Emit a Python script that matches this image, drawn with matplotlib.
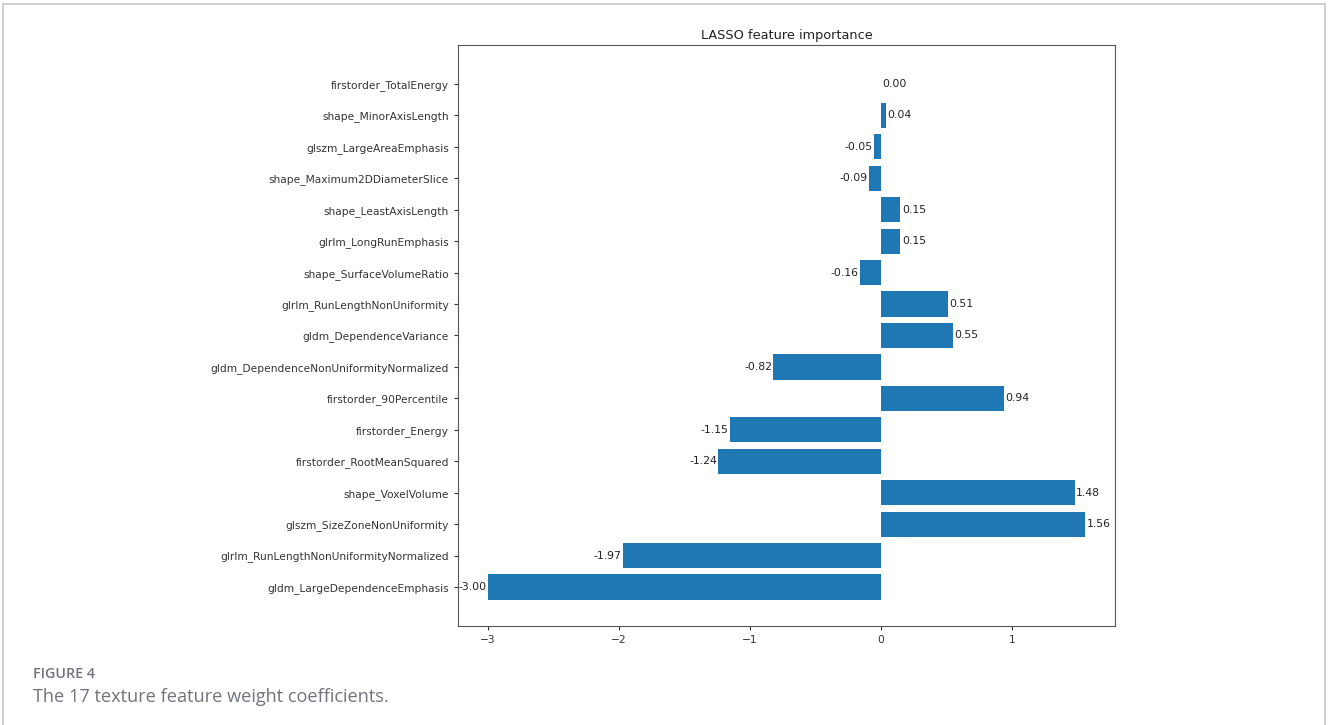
import matplotlib.pyplot as plt

plt.rcParams["font.family"] = ["DejaVu Sans"]

# LASSO coefficients, bottom to top
features = [
    "gldm_LargeDependenceEmphasis",
    "glrlm_RunLengthNonUniformityNormalized",
    "glszm_SizeZoneNonUniformity",
    "shape_VoxelVolume",
    "firstorder_RootMeanSquared",
    "firstorder_Energy",
    "firstorder_90Percentile",
    "gldm_DependenceNonUniformityNormalized",
    "gldm_DependenceVariance",
    "glrlm_RunLengthNonUniformity",
    "shape_SurfaceVolumeRatio",
    "glrlm_LongRunEmphasis",
    "shape_LeastAxisLength",
    "shape_Maximum2DDiameterSlice",
    "glszm_LargeAreaEmphasis",
    "shape_MinorAxisLength",
    "firstorder_TotalEnergy",
]
coefs = [-3.00, -1.97, 1.56, 1.48, -1.24, -1.15, 0.94, -0.82, 0.55, 0.51,
         -0.16, 0.15, 0.15, -0.09, -0.05, 0.04, 0.00]

fig = plt.figure(figsize=(13.28, 7.25), dpi=100)
ax = fig.add_axes([458 / 1328, 1 - 626 / 725, (1115 - 458) / 1328, (626 - 45) / 725])

bars = ax.barh(features, coefs, color="#1f77b4")
ax.bar_label(bars, fmt="%.2f", padding=1, fontsize=7.8, color="#222222")
ax.set_title("LASSO feature importance", fontsize=9.3, pad=4, color="#222222")
ax.tick_params(labelsize=7.7, colors="#333333", length=3)
for s in ax.spines.values():
    s.set_color("#555555")
    s.set_linewidth(0.8)

# light frame around the figure panel (open at the bottom)
frame = dict(color="#c5c7d0", linewidth=1.2, transform=fig.transFigure)
fig.add_artist(plt.Line2D([3 / 1328, 3 / 1328], [0, 1 - 4 / 725], **frame))
fig.add_artist(plt.Line2D([1325 / 1328, 1325 / 1328], [0, 1 - 4 / 725], **frame))
fig.add_artist(plt.Line2D([3 / 1328, 1325 / 1328], [1 - 4 / 725, 1 - 4 / 725], **frame))

fig.text(33 / 1328, 1 - 674 / 725, "FIGURE 4", fontsize=10.3, fontweight="semibold",
         color="#70737e", family="Open Sans", va="center")
fig.text(33 / 1328, 1 - 697 / 725, "The 17 texture feature weight coefficients.",
         fontsize=13.1, color="#70737e", family="Open Sans", va="center")

fig.savefig("out.png", dpi=100)
